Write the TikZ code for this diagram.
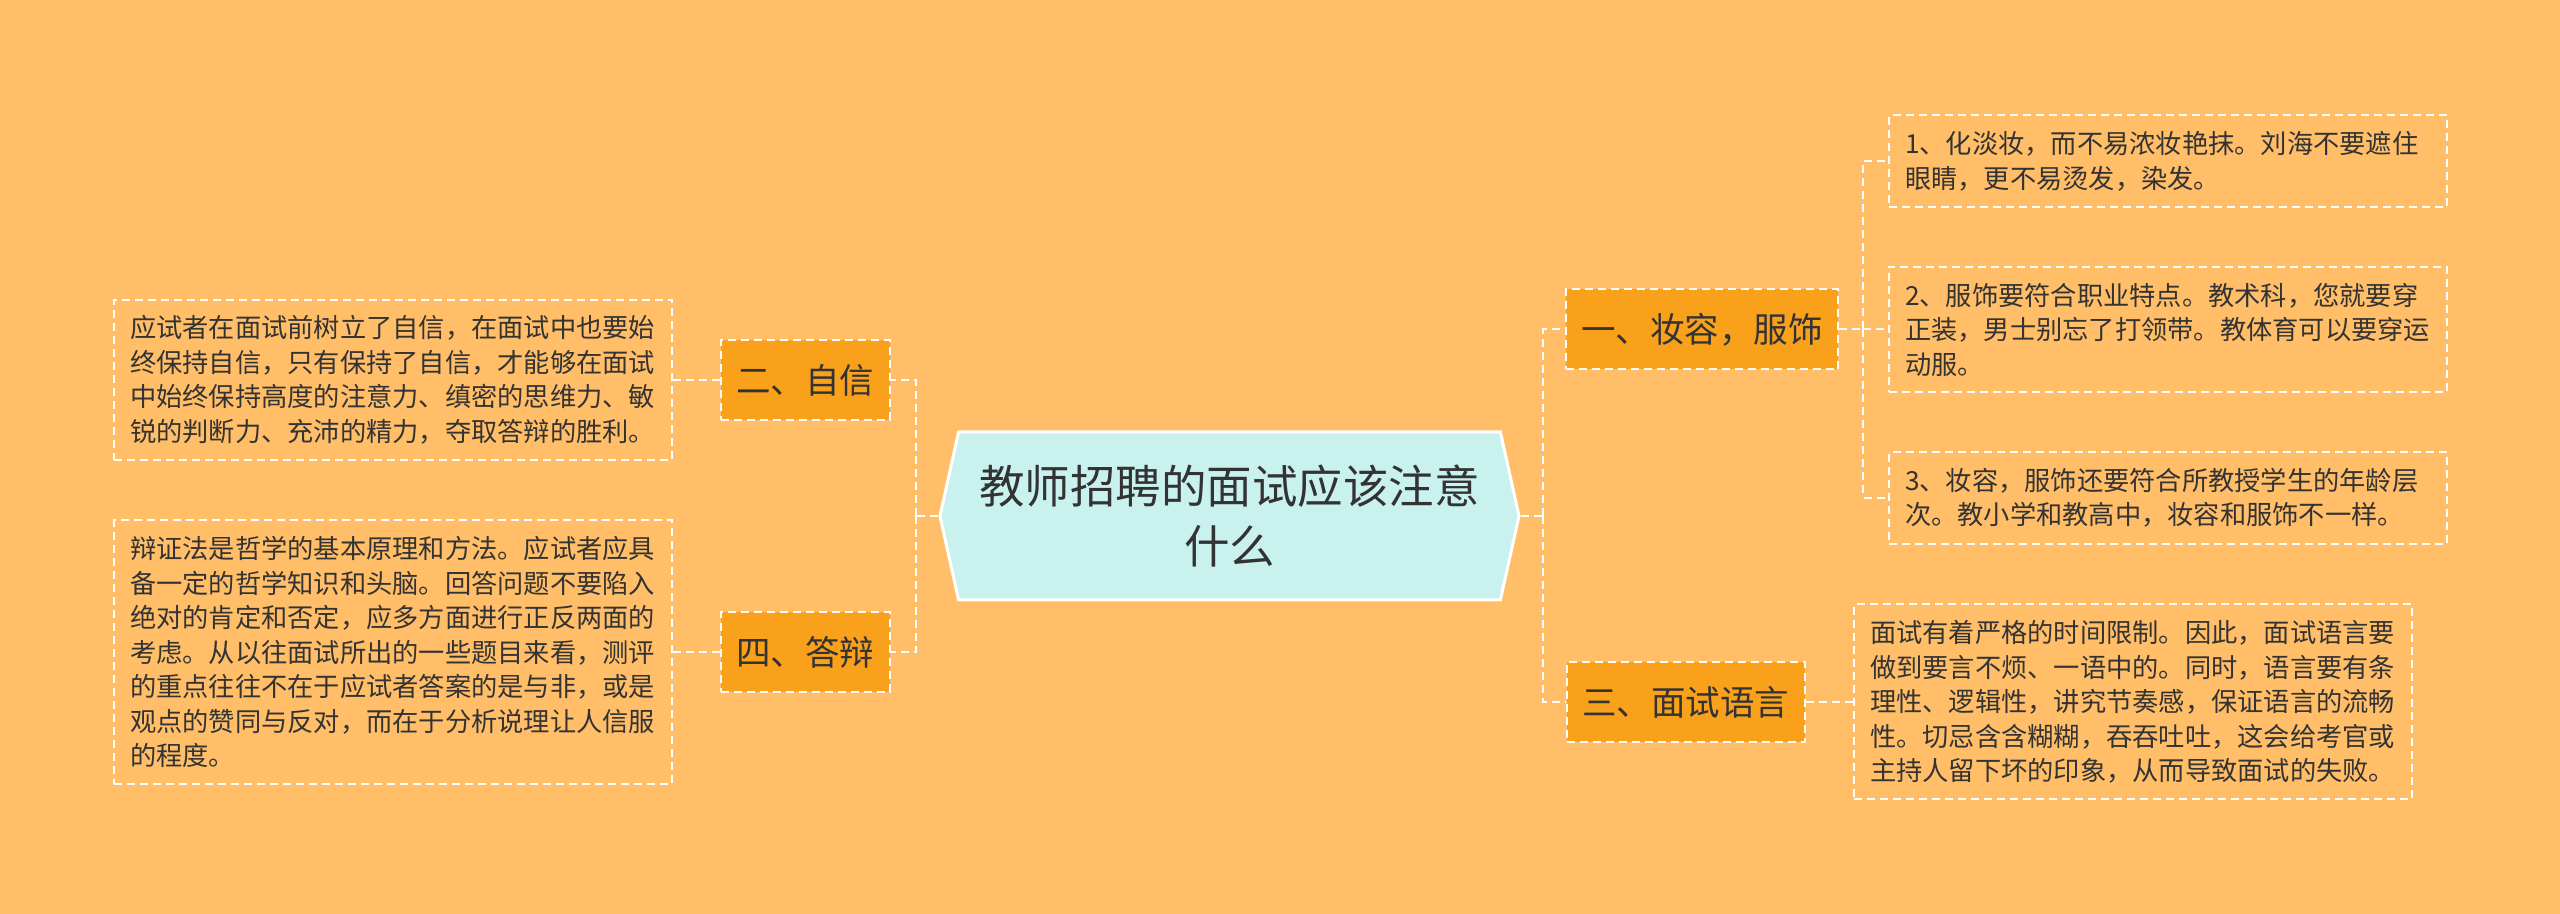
\documentclass[tikz,border=0pt]{standalone}
\usepackage{fontspec}
\setmainfont{Noto Sans CJK SC}
\usepackage{tikz}
\usepackage{xcolor}
\usetikzlibrary{positioning, shapes.symbols}

\definecolor{bgorange}{HTML}{FFBE67}
\definecolor{branchorange}{HTML}{F9A11B}
\definecolor{rootcyan}{HTML}{C9F2EF}
\definecolor{inkgray}{HTML}{333333}

\begin{document}
\begin{tikzpicture}[
      node distance=19pt,
      % Styling nodes
      base/.style={
        draw=white,
        align=left,
        text=inkgray
      },
      rootnode/.style={base, signal, signal to=west and east, signal pointer angle=155,
        fill=rootcyan, line width=1.2pt, minimum width=231.6pt, minimum height=67.2pt,
        align=center, font=\fontsize{18.2pt}{24pt}\selectfont},
      branchnode/.style={base, fill=branchorange, dash pattern=on 3.2pt off 2pt,
        line width=0.8pt, minimum height=32pt, inner xsep=6.2pt,
        font=\fontsize{13.8pt}{16pt}\selectfont},
      leafnode/.style={base, dash pattern=on 3.2pt off 2pt, line width=0.8pt,
        text width=210.4pt, inner sep=6.4pt, font=\fontsize{10.5pt}{13.8pt}\selectfont},
      link/.style={draw=white, line width=0.8pt, dash pattern=on 3.2pt off 2pt}
    ]

    % Background
    \fill[bgorange] (-491.8pt,-159.2pt) rectangle (532.2pt,206.4pt);
    \useasboundingbox (-491.8pt,-159.2pt) rectangle (532.2pt,206.4pt);

    % Central topic
    \node (title) [rootnode] {教师招聘的面试应该注意\\什么};

    % Branches
    \node (zixin) [branchnode, left=19pt of title, yshift=54.4pt] {二、自信};
    \node (dabian) [branchnode, left=19pt of title, yshift=-54.4pt] {四、答辩};
    \node (zhuangrong) [branchnode, right=17.6pt of title, yshift=74.6pt] {一、妆容，服饰};
    \node (yuyan) [branchnode, right=18pt of title, yshift=-74.4pt] {三、面试语言};

    % Details
    \node (zixinleaf) [leafnode, left=18.7pt of zixin] {应试者在面试前树立了自信，在面试中也要始\\终保持自信，只有保持了自信，才能够在面试\\中始终保持高度的注意力、缜密的思维力、敏\\锐的判断力、充沛的精力，夺取答辩的胜利。};
    \node (dabianleaf) [leafnode, left=18.7pt of dabian] {辩证法是哲学的基本原理和方法。应试者应具\\备一定的哲学知识和头脑。回答问题不要陷入\\绝对的肯定和否定，应多方面进行正反两面的\\考虑。从以往面试所出的一些题目来看，测评\\的重点往往不在于应试者答案的是与非，或是\\观点的赞同与反对，而在于分析说理让人信服\\的程度。};
    \node (zr1) [leafnode, right=19.6pt of zhuangrong, yshift=67.4pt] {1、化淡妆，而不易浓妆艳抹。刘海不要遮住\\眼睛，更不易烫发，染发。};
    \node (zr2) [leafnode, right=19.6pt of zhuangrong] {2、服饰要符合职业特点。教术科，您就要穿\\正装，男士别忘了打领带。教体育可以要穿运\\动服。};
    \node (zr3) [leafnode, right=19.6pt of zhuangrong, yshift=-67.4pt] {3、妆容，服饰还要符合所教授学生的年龄层\\次。教小学和教高中，妆容和服饰不一样。};
    \node (yuyanleaf) [leafnode, right=19pt of yuyan] {面试有着严格的时间限制。因此，面试语言要\\做到要言不烦、一语中的。同时，语言要有条\\理性、逻辑性，讲究节奏感，保证语言的流畅\\性。切忌含含糊糊，吞吞吐吐，这会给考官或\\主持人留下坏的印象，从而导致面试的失败。};

    % Connectors
    % Left side
    \coordinate [left=9pt of title] (ljoin);
    \draw[link] (title.west) -- (ljoin);
    \draw[link] (ljoin) |- (zixin.east);
    \draw[link] (ljoin) |- (dabian.east);
    \draw[link] (zixin.west) -- (zixinleaf.east);
    \draw[link] (dabian.west) -- (dabianleaf.east);

    % Right side
    \coordinate [right=9pt of title] (rjoin);
    \draw[link] (title.east) -- (rjoin);
    \draw[link] (rjoin) |- (zhuangrong.west);
    \draw[link] (rjoin) |- (yuyan.west);
    \coordinate [right=9.6pt of zhuangrong] (zjoin);
    \draw[link] (zhuangrong.east) -- (zjoin);
    \draw[link] (zjoin) |- (zr1.west);
    \draw[link] (zjoin) -- (zr2.west);
    \draw[link] (zjoin) |- (zr3.west);
    \draw[link] (yuyan.east) -- (yuyanleaf.west);

  \end{tikzpicture}
\end{document}
